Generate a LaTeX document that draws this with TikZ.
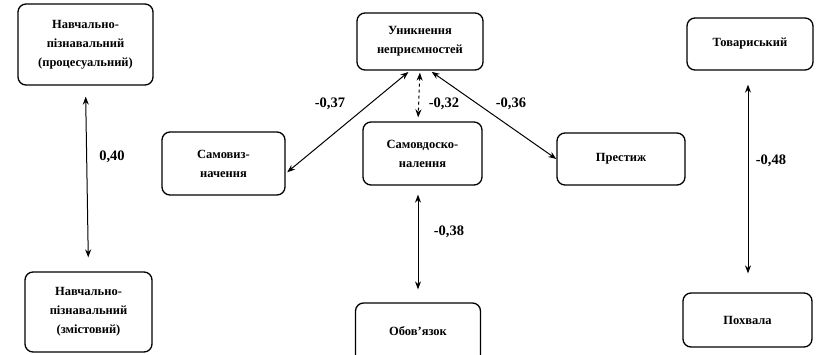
\documentclass[tikz,border=0pt]{standalone}
\usepackage{fontspec}
\setmainfont{Liberation Serif}
\usetikzlibrary{arrows.meta}
\begin{document}
\begin{tikzpicture}[x=1pt,y=-1pt,
  box/.style={draw, line width=1.3pt, rounded corners=8pt, align=center, inner sep=0pt,
    font=\fontsize{12.5}{19}\selectfont\bfseries},
  link/.style={line width=1pt, {Stealth[length=8pt,width=6pt]}-{Stealth[length=8pt,width=6pt]}},
  lab/.style={font=\fontsize{14.5}{16}\selectfont\bfseries}]
\useasboundingbox (0,0) rectangle (817,354);
\node[box, minimum width=135pt, minimum height=81pt] (n1) at (85.5,44.5) {Навчально-\\пізнавальний\\(процесуальний)};
\node[box, minimum width=127pt, minimum height=80pt] (n2) at (88.5,312) {Навчально-\\пізнавальний\\(змістовий)};
\node[box, minimum width=123pt, minimum height=63pt] (sv) at (223.5,163.5) {Самовиз-\\начення};
\node[box, minimum width=126pt, minimum height=57pt] (u) at (420,41.5) {Уникнення\\неприємностей};
\node[box, minimum width=119pt, minimum height=63pt] (sd) at (422.5,153.5) {Самовдоско-\\налення};
\node[box, minimum width=128pt, minimum height=52pt] (pr) at (621,159) {Престиж};
\node[box, minimum width=125pt, minimum height=70pt] (ob) at (418,338) {\raisebox{14pt}{Обов'язок}};
\node[box, minimum width=126pt, minimum height=52pt] (t) at (750,44) {Товариський};
\node[box, minimum width=129pt, minimum height=54pt] (p) at (747.5,320) {Похвала};
\draw[link, shorten <=11pt, shorten >=14pt] (n1.south) -- (n2.north);
\draw[link, shorten <=2pt, shorten >=2pt] ([xshift=-10pt]u.south) -- ([yshift=-10pt]sv.east);
\draw[link, shorten <=2pt, shorten >=4pt, dashed] (u.south) -- ([xshift=-4.5pt]sd.north);
\draw[link, shorten <=2pt, shorten >=0pt] ([xshift=10pt]u.south) -- ([yshift=0pt]pr.west);
\draw[link, shorten <=9pt, shorten >=13pt] ([xshift=-4.5pt]sd.south) -- (ob.north);
\draw[link, shorten <=14pt, shorten >=19pt] ([xshift=-2pt]t.south) -- ([xshift=0.5pt]p.north);
\node[lab] (l1) at (112,157) {0,40};
\node[lab] (l2) at (330,104) {-0,37};
\node[lab] (l3) at (444,104) {-0,32};
\node[lab] (l4) at (511,104) {-0,36};
\node[lab] (l5) at (449,232) {-0,38};
\node[lab] (l6) at (771,161) {-0,48};
\end{tikzpicture}
\end{document}
